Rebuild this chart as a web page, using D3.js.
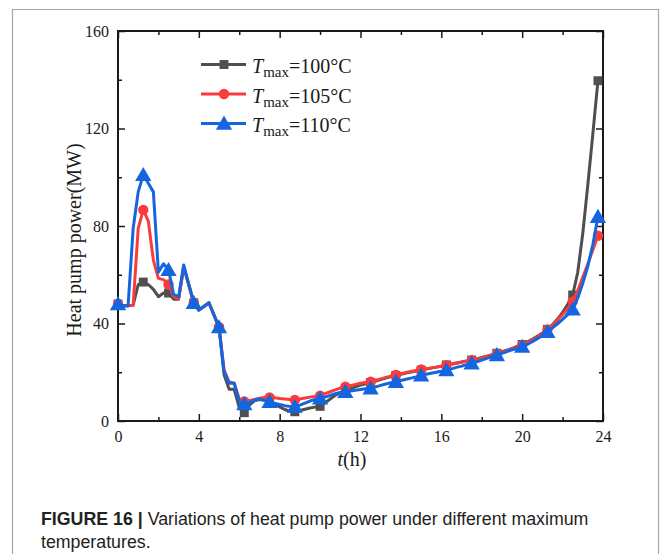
<!DOCTYPE html>
<html><head><meta charset="utf-8">
<script src="https://cdn.jsdelivr.net/npm/d3@7"></script>
<style>body{margin:0;background:#fff} svg{display:block}</style>
</head><body><svg id="c" width="665" height="554"></svg>
<script>
// ---- data ----
const times = d3.range(0, 24, 0.25); // 0 .. 23.75 h
const seriesLabels = ["100", "105", "110"];
const power100 = [
  48,47.3,47.3,47.5, 56,57,56,54, 51,52.5,52.5,50, 50,63,56,48.5,
  45.5,47,48.5,43.5, 38,19,13,13, 5.5,3.4,6.5,8.3, 8.8,8.5,8,7,
  5.8,4.7,4,3.8, 4.3,4.8,5.3,5.7, 6,7.5,9,10.5, 11.6,12.5,13.3,14,
  14.7,15.3,15.8,16.4, 17,17.6,18.2,18.7, 19.2,19.7,20.1,20.5, 20.9,21.3,21.7,22.1,
  22.5,23,23.4,23.8, 24.2,24.6,25,25.5, 26.1,26.6,27.2,27.8, 28.4,29.1,29.8,30.6,
  31.4,32.4,33.5,34.8, 36.1,37.6,39.5,41.8, 44.6,47.8,51.7,61, 77,97,118,139.6
];
const power105 = [
  48,47.3,47.3,47.5, 79,86.6,82,66, 58.5,58,56,51, 50,63.5,56,48.5,
  45.5,47,48.5,43.5, 38.5,21,16,15.5, 9,8,8.3,8.8, 9.3,9.6,9.7,9.5,
  9.2,9,8.8,8.6, 9,9.4,9.8,10.1, 10.4,11.2,12,12.8, 13.5,14.1,14.5,15,
  15.5,15.8,16.1,16.7, 17.3,17.9,18.4,18.9, 19.4,19.9,20.3,20.7, 21.1,21.4,21.8,22.1,
  22.5,22.9,23.3,23.7, 24.1,24.5,24.9,25.4, 25.9,26.5,27,27.6, 28.2,28.9,29.6,30.3,
  31.1,32.1,33.2,34.5, 35.9,37.5,39.3,41.4, 43.7,46.2,49,53.5, 59,64.5,70.3,76
];
const power110 = [
  48,47.3,47.3,79, 94,101,97.5,94, 61,64.5,62,52, 51,64,56,48.5,
  45.5,47,48.5,43.5, 38.5,20,15.5,15.5, 8,7,7.5,8.5, 9,8.5,7.9,7.3,
  6.8,6.3,6,5.9, 6.5,7.3,8.2,8.8, 9.3,9.8,10.5,11.2, 11.7,12,12.3,12.6,
  12.9,13.2,13.4,14, 14.6,15.2,15.7,16.1, 16.6,17.1,17.6,18.1, 18.8,19.2,19.6,20,
  20.4,20.9,21.4,22, 22.5,23.1,23.7,24.3, 25,25.7,26.4,27.1, 27.8,28.5,29.2,29.8,
  30.5,31.4,32.5,33.8, 35.1,36.6,38.2,39.9, 41.7,43.6,45.8,50.5, 56.5,63.5,72.5,83.8
];
const xMajorTicks = [0, 4, 8, 12, 16, 20, 24];
const xMinorTicks = [2, 6, 10, 14, 18, 22];
const yMajorTicks = [0, 40, 80, 120, 160];
const yMinorTicks = [20, 60, 100, 140];
const colors = ["#4f4f4f", "#fb3b3b", "#1466e0"];
const shapes = [d3.symbolSquare, d3.symbolCircle, d3.symbolTriangle];
const symSizes = [80, 85, 115];

// ---- chart ----
const svg = d3.select("#c");
const serif = "'Liberation Serif','Times New Roman',serif";
svg.append("rect").attr("width", 665).attr("height", 554).attr("fill", "#fff");
// outer figure border
svg.append("path").attr("d", "M12.5,560 V9.5 H658.5 V560")
  .attr("fill", "none").attr("stroke", "#a6a6a6").attr("stroke-width", 1.2);

const x = d3.scaleLinear().domain([0, 24]).range([118, 603]);
const y = d3.scaleLinear().domain([0, 160]).range([421, 31]);

function styleAxis(g) {
  g.select(".domain").remove();
  g.selectAll(".tick line").attr("stroke", "#1a1a1a").attr("stroke-width", 1.5);
  g.selectAll("text").attr("font-family", serif).attr("font-size", 16).attr("fill", "#1a1a1a");
}
const axes = svg.append("g");
// bottom
axes.append("g").attr("transform", "translate(0,421)")
  .call(d3.axisBottom(x).tickValues(xMajorTicks).tickFormat(d3.format("d")).tickSizeInner(-7).tickSizeOuter(0).tickPadding(10)).call(styleAxis);
axes.append("g").attr("transform", "translate(0,421)")
  .call(d3.axisBottom(x).tickValues(xMinorTicks).tickFormat("").tickSizeInner(-4).tickSizeOuter(0)).call(styleAxis);
// top
axes.append("g").attr("transform", "translate(0,31)")
  .call(d3.axisTop(x).tickValues(xMajorTicks).tickFormat("").tickSizeInner(-7).tickSizeOuter(0)).call(styleAxis);
axes.append("g").attr("transform", "translate(0,31)")
  .call(d3.axisTop(x).tickValues(xMinorTicks).tickFormat("").tickSizeInner(-4).tickSizeOuter(0)).call(styleAxis);
// left
axes.append("g").attr("transform", "translate(118,0)")
  .call(d3.axisLeft(y).tickValues(yMajorTicks).tickFormat(d3.format("d")).tickSizeInner(-7).tickSizeOuter(0).tickPadding(9)).call(styleAxis);
axes.append("g").attr("transform", "translate(118,0)")
  .call(d3.axisLeft(y).tickValues(yMinorTicks).tickFormat("").tickSizeInner(-4).tickSizeOuter(0)).call(styleAxis);
// right
axes.append("g").attr("transform", "translate(603,0)")
  .call(d3.axisRight(y).tickValues(yMajorTicks).tickFormat("").tickSizeInner(-7).tickSizeOuter(0)).call(styleAxis);
axes.append("g").attr("transform", "translate(603,0)")
  .call(d3.axisRight(y).tickValues(yMinorTicks).tickFormat("").tickSizeInner(-4).tickSizeOuter(0)).call(styleAxis);
// frame
svg.append("rect").attr("x", x(0)).attr("y", y(160)).attr("width", x(24) - x(0)).attr("height", y(0) - y(160))
  .attr("fill", "none").attr("stroke", "#1a1a1a").attr("stroke-width", 2);

// series
const allSeries = [power100, power105, power110];
const line = d3.line().x((d, i) => x(times[i])).y(d => y(d));
allSeries.forEach((vals, k) => {
  const g = svg.append("g");
  g.append("path").datum(vals).attr("d", line).attr("fill", "none")
    .attr("stroke", colors[k]).attr("stroke-width", 3).attr("stroke-linejoin", "round");
  g.selectAll("path.m").data(vals.map((v, i) => [times[i], v]).filter((d, i) => i % 5 === 0))
    .join("path").attr("class", "m")
    .attr("transform", d => `translate(${x(d[0])},${y(d[1]) + (k === 2 ? 1.5 : 0)})`)
    .attr("d", d3.symbol().type(shapes[k]).size(symSizes[k]))
    .attr("fill", colors[k]);
});

// legend
const legY = [64.5, 94, 123.5];
seriesLabels.forEach((lab, k) => {
  const g = svg.append("g").attr("transform", `translate(0,${legY[k]})`);
  g.append("line").attr("x1", 201).attr("x2", 246).attr("stroke", colors[k]).attr("stroke-width", 3);
  g.append("path").attr("transform", `translate(224,${k === 2 ? 1.5 : 0})`)
    .attr("d", d3.symbol().type(shapes[k]).size(symSizes[k])).attr("fill", colors[k]);
  const t = g.append("text").attr("x", 252).attr("y", 8.5).attr("font-family", serif)
    .attr("font-size", 20).attr("fill", "#1a1a1a");
  t.append("tspan").attr("font-style", "italic").text("T");
  t.append("tspan").attr("font-size", 15).attr("dy", 4).text("max");
  t.append("tspan").attr("dy", -4).text("=" + lab + "°C");
});

// axis titles
svg.append("text").attr("transform", "translate(81,240) rotate(-90)").attr("text-anchor", "middle")
  .attr("font-family", serif).attr("font-size", 20).attr("fill", "#1a1a1a").text("Heat pump power(MW)");
const xt = svg.append("text").attr("x", 352).attr("y", 466).attr("text-anchor", "middle")
  .attr("font-family", serif).attr("font-size", 20).attr("fill", "#1a1a1a");
xt.append("tspan").attr("font-style", "italic").text("t");
xt.append("tspan").text("(h)");

// caption
const cap = svg.append("g");
const capFont = "'Liberation Sans Narrow','Arial Narrow','Liberation Sans',Arial,sans-serif";
const l1 = cap.append("text").attr("x", 0).attr("y", 525).attr("font-family", capFont)
  .attr("font-size", 18.5).attr("fill", "#222");
l1.append("tspan").attr("font-weight", "bold").text("FIGURE 16 | ");
l1.append("tspan").text("Variations of heat pump power under different maximum");
cap.append("text").attr("x", 0).attr("y", 548).attr("font-family", capFont)
  .attr("font-size", 18.5).attr("fill", "#222").text("temperatures.");
const w = l1.node().getComputedTextLength();
const k = 548 / w;
cap.attr("transform", `translate(41,0) scale(${k},1)`);
</script></body></html>
